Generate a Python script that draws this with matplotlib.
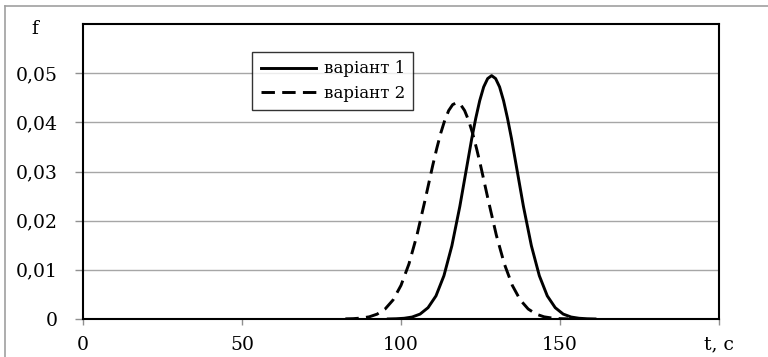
import numpy as np
import matplotlib
matplotlib.use('Agg')
import matplotlib.pyplot as plt
from matplotlib.lines import Line2D

plt.rcParams['font.family'] = ['DejaVu Serif']

# values
t1 = [96, 98.5, 101, 103.5, 106, 108.5, 111, 113.5, 116, 118.5, 121, 122.25, 123.5,
      124.75, 126, 127.25, 128.5, 129.75, 131, 132.25, 133.5, 134.75, 136, 138.5, 141,
      143.5, 146, 148.5, 151, 153.5, 156, 158.5, 161]
f1 = [0.00001, 0.00005, 0.00015, 0.0004, 0.0010, 0.0023, 0.0047, 0.0088, 0.0149,
      0.0229, 0.0321, 0.0367, 0.0408, 0.0444, 0.0472, 0.0489, 0.0495, 0.0489, 0.0472,
      0.0444, 0.0408, 0.0367, 0.0321, 0.0229, 0.0149, 0.0088, 0.0047, 0.0023, 0.0010,
      0.0004, 0.00015, 0.00005, 0.00001]

t2 = [82.5, 85, 87.5, 90, 92.5, 95, 97.5, 100, 102.5, 105, 107.5, 110, 111.25, 112.5,
      113.75, 115, 116.25, 117.5, 118.75, 120, 121.25, 122.5, 123.75, 125, 127.5, 130,
      132.5, 135, 137.5, 140, 142.5, 145, 147.5, 150, 152.5]
f2 = [0.00003, 0.00007, 0.00019, 0.00044, 0.00099, 0.00203, 0.00387, 0.00684, 0.0112,
      0.0170, 0.0240, 0.0313, 0.0347, 0.0378, 0.0404, 0.0424, 0.0436, 0.0440, 0.0436,
      0.0424, 0.0404, 0.0378, 0.0347, 0.0313, 0.0240, 0.0170, 0.0112, 0.00684, 0.00387,
      0.00203, 0.00099, 0.00044, 0.00019, 0.00007, 0.00003]

series_names = ['варіант 1', 'варіант 2']
x_ticks = [0, 50, 100, 150, 200]
x_labels = ['0', '50', '100', '150', 't, c']
y_ticks = [0, 0.01, 0.02, 0.03, 0.04, 0.05]
y_labels = ['0', '0,01', '0,02', '0,03', '0,04', '0,05']

fig = plt.figure(figsize=(7.68, 3.57), dpi=100)
ax = fig.add_axes([83/768, 1 - 319/357, 636/768, 295/357])

ax.plot(t1, f1, color='black', lw=2.1, label=series_names[0], zorder=3,
        solid_joinstyle='round')
ax.plot(t2, f2, color='black', lw=2.1, ls=(0, (4.6, 2.5)), label=series_names[1], zorder=3)

ax.set_xlim(0, 200)
ax.set_ylim(0, 0.06)
ax.set_xticks(x_ticks)
ax.set_xticklabels(x_labels)
ax.set_yticks(y_ticks)
ax.set_yticklabels(y_labels)
ax.grid(axis='y', color='#a6a6a6', lw=1)
ax.set_axisbelow(True)

for s in ax.spines.values():
    s.set_linewidth(1.5)
    s.set_color('black')
ax.tick_params(axis='y', length=6, width=1, color='#909090', pad=12, labelsize=13.5)
ax.tick_params(axis='x', length=4, width=1, color='#909090', pad=8, labelsize=13.5)

fig.text(35/768, 1 - 29/357, 'f', fontsize=13.5, ha='center', va='center')

leg = ax.legend(loc='upper left', bbox_to_anchor=(0.266, 0.905), borderaxespad=0,
                fontsize=12, frameon=True, fancybox=False, handlelength=3.3,
                handletextpad=0.5, labelspacing=0.45, borderpad=0.5)
leg.get_frame().set_edgecolor('black')
leg.get_frame().set_linewidth(1)

# grey outer frame of the picture
fig.add_artist(Line2D([5/768, 5/768], [0, 1 - 6/357], color='#a0a0a0', lw=1.2,
                      transform=fig.transFigure))
fig.add_artist(Line2D([5/768, 1], [1 - 6/357, 1 - 6/357], color='#a0a0a0', lw=1.2,
                      transform=fig.transFigure))

fig.savefig('out.png', dpi=100)
